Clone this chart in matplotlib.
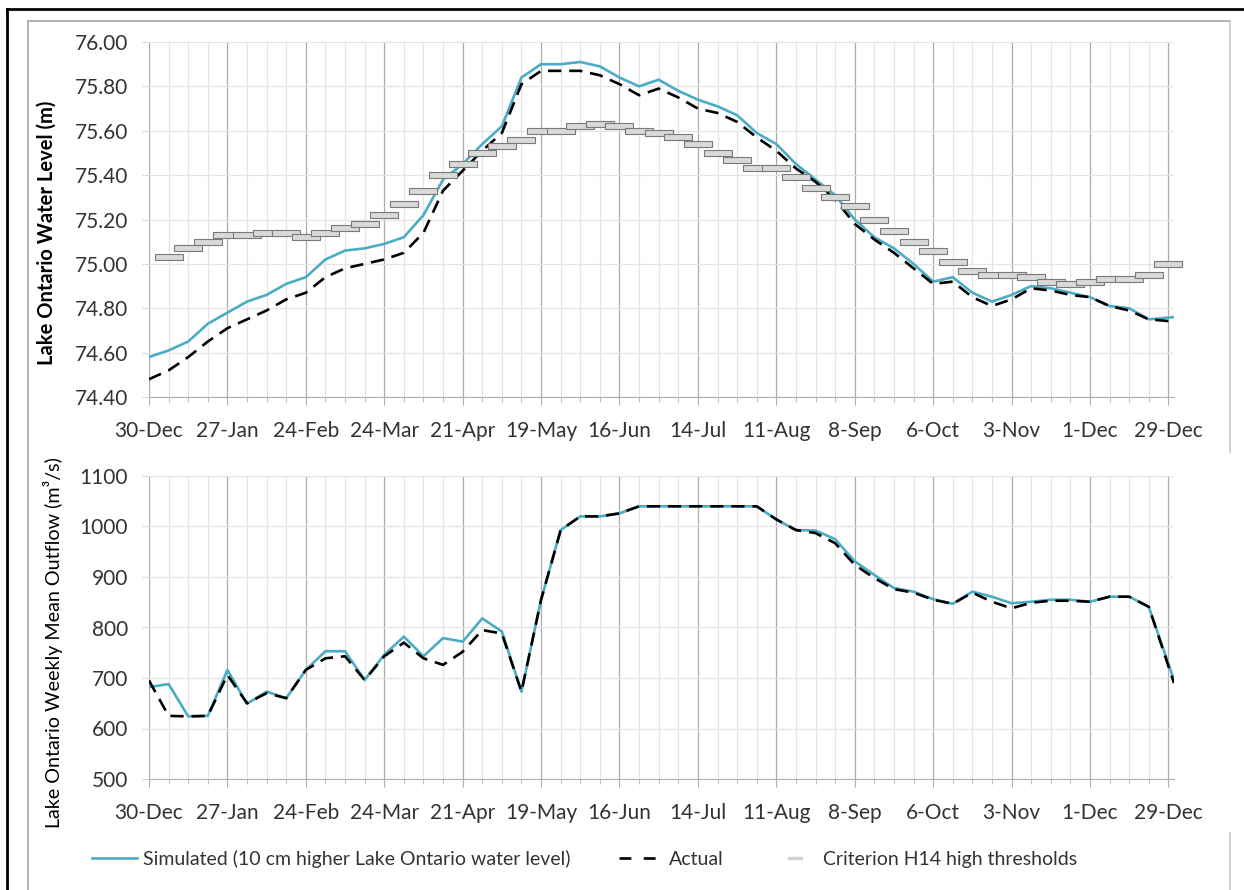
import matplotlib
matplotlib.use('Agg')
import matplotlib.pyplot as plt
from matplotlib.path import Path
from matplotlib.lines import Line2D

plt.rcParams['font.family'] = ['Lato', 'DejaVu Sans']

# weekly dates as day offsets from 30-Dec; last point is a partial week
days = [7 * i for i in range(52)] + [366]
thr_days = [7 * i for i in range(1, 53)]

tick_days = list(range(0, 365, 28))
tick_labels = ['30-Dec', '27-Jan', '24-Feb', '24-Mar', '21-Apr', '19-May', '16-Jun',
               '14-Jul', '11-Aug', '8-Sep', '6-Oct', '3-Nov', '1-Dec', '29-Dec']

sim_level = [74.58, 74.61, 74.65, 74.73, 74.78, 74.83, 74.86, 74.91, 74.94, 75.02,
             75.06, 75.07, 75.09, 75.12, 75.22, 75.38, 75.45, 75.54, 75.62, 75.84,
             75.90, 75.90, 75.91, 75.89, 75.84, 75.80, 75.83, 75.78, 75.74, 75.71,
             75.67, 75.59, 75.54, 75.45, 75.38, 75.31, 75.20, 75.12, 75.07, 75.00,
             74.92, 74.94, 74.87, 74.83, 74.86, 74.90, 74.89, 74.87, 74.85, 74.81,
             74.80, 74.75, 74.76]
act_level = [74.48, 74.52, 74.58, 74.65, 74.71, 74.75, 74.79, 74.84, 74.87, 74.94,
             74.98, 75.00, 75.02, 75.05, 75.14, 75.33, 75.42, 75.51, 75.59, 75.81,
             75.87, 75.87, 75.87, 75.85, 75.81, 75.76, 75.79, 75.75, 75.70, 75.68,
             75.64, 75.57, 75.51, 75.43, 75.37, 75.29, 75.18, 75.11, 75.05, 74.98,
             74.91, 74.92, 74.85, 74.81, 74.84, 74.89, 74.88, 74.86, 74.85, 74.81,
             74.79, 74.75, 74.74]
h14_thresh = [75.03, 75.07, 75.10, 75.13, 75.13, 75.14, 75.14, 75.12, 75.14, 75.16,
              75.18, 75.22, 75.27, 75.33, 75.40, 75.45, 75.50, 75.53, 75.56, 75.60,
              75.60, 75.62, 75.63, 75.62, 75.60, 75.59, 75.57, 75.54, 75.50, 75.47,
              75.43, 75.43, 75.39, 75.34, 75.30, 75.26, 75.20, 75.15, 75.10, 75.06,
              75.01, 74.97, 74.95, 74.95, 74.94, 74.92, 74.91, 74.92, 74.93, 74.93,
              74.95, 75.00]

sim_flow = [682, 688, 624, 625, 716, 649, 673, 660, 716, 753, 753, 696, 746, 782,
            743, 779, 772, 818, 792, 673, 855, 993, 1020, 1020, 1026, 1040, 1040,
            1040, 1040, 1040, 1040, 1040, 1014, 993, 992, 975, 931, 904, 878, 871,
            856, 847, 871, 861, 848, 851, 855, 855, 851, 861, 861, 841, 696]
act_flow = [695, 625, 624, 625, 706, 650, 670, 660, 716, 739, 743, 696, 743, 770,
            739, 726, 752, 795, 788, 673, 855, 993, 1020, 1020, 1026, 1040, 1040,
            1040, 1040, 1040, 1040, 1040, 1014, 993, 987, 967, 924, 898, 876, 869,
            855, 847, 869, 851, 838, 849, 853, 853, 851, 861, 861, 841, 690]

BLUE = '#4bacc6'
TXT = '#333333'

fig = plt.figure(figsize=(12.44, 8.90), dpi=100)
fig.set_facecolor('w')

# page frame (black) and chart-area border (gray)
fig.add_artist(Line2D([7/1244, 1], [1 - 9/890] * 2, color='k', lw=2))
fig.add_artist(Line2D([7/1244] * 2, [0, 1 - 9/890], color='k', lw=2))
fig.add_artist(Line2D([28/1244, 1230/1244], [1 - 21/890] * 2, color='#a6a6a6', lw=1.2))
fig.add_artist(Line2D([28/1244] * 2, [0, 1 - 21/890], color='#a6a6a6', lw=1.2))
fig.add_artist(Line2D([1230/1244] * 2, [1 - 452/890, 1 - 21/890], color='#c8c8c8', lw=1.2))
fig.add_artist(Line2D([1230/1244] * 2, [0, 1 - 833/890], color='#c8c8c8', lw=1.2))

ax1 = fig.add_axes([149/1244, 1 - 397/890, 1025/1244, 355/890])
ax2 = fig.add_axes([149/1244, 1 - 779/890, 1025/1244, 303/890])

for ax in (ax1, ax2):
    ax.set_xlim(0, 366)
    ax.set_xticks(tick_days)
    ax.set_xticklabels(tick_labels)
    ax.set_xticks(list(range(0, 366, 7)), minor=True)
    ax.grid(which='minor', axis='x', color='#e4e4e4', lw=0.9)
    ax.grid(which='major', axis='x', color='#ababab', lw=0.9)
    ax.grid(which='major', axis='y', color='#e4e4e4', lw=0.9)
    ax.set_axisbelow(True)
    for s in ('top', 'right', 'left'):
        ax.spines[s].set_visible(False)
    ax.spines['bottom'].set_color('#b0b0b0')
    ax.tick_params(axis='x', which='major', length=6, color='#b0b0b0', pad=11,
                   labelsize=15, labelcolor=TXT)
    ax.tick_params(axis='x', which='minor', length=3.5, color='#b0b0b0')
    ax.tick_params(axis='y', length=5, color='#d9d9d9', pad=10,
                   labelsize=15, labelcolor=TXT)

# top: water level
ax1.plot(days, sim_level, color=BLUE, lw=1.9)
ax1.plot(days, act_level, color='k', lw=1.9, linestyle=(0, (5, 3)))
bar = Path([(-14, -2.5), (14, -2.5), (14, 2.5), (-14, 2.5), (-14, -2.5)],
           [Path.MOVETO, Path.LINETO, Path.LINETO, Path.LINETO, Path.CLOSEPOLY])
ax1.plot(thr_days, h14_thresh, linestyle='none', marker=bar, markersize=20.2,
         markerfacecolor='#d9d9d9', markeredgecolor='#7a7a7a', markeredgewidth=0.8,
         clip_on=False)
ax1.set_ylim(74.4, 76.0)
ax1.set_yticks([74.4 + 0.2 * i for i in range(9)])
ax1.set_yticklabels(['%.2f' % (74.4 + 0.2 * i) for i in range(9)])
ax1.set_ylabel('Lake Ontario Water Level (m)', fontsize=14.5, fontweight='bold', color='k')
ax1.yaxis.set_label_coords(-0.09, 0.462)

# bottom: outflow
ax2.plot(days, sim_flow, color=BLUE, lw=1.9)
ax2.plot(days, act_flow, color='k', lw=1.9, linestyle=(0, (5, 3)))
ax2.set_ylim(500, 1100)
ax2.set_yticks(range(500, 1101, 100))
ax2.set_ylabel('Lake Ontario Weekly Mean Outflow (m³/s)', fontsize=14.2, color='k')
ax2.yaxis.set_label_coords(-0.084, 0.45)

handles = [
    Line2D([], [], color=BLUE, lw=1.9),
    Line2D([], [], color='k', lw=1.9, linestyle=(0, (4.5, 4.7))),
    Line2D([], [], linestyle='none', marker=bar, markersize=9.5,
           markerfacecolor='#d0d0d0', markeredgecolor='#d0d0d0'),
]
labels = ['Simulated (10 cm higher Lake Ontario water level)', 'Actual',
          'Criterion H14 high thresholds']
fig.legend(handles, labels, loc='center left', bbox_to_anchor=(92/1244, 1 - 859/890),
           ncol=3, frameon=False, borderpad=0, borderaxespad=0, handlelength=2.3,
           handletextpad=0.3, columnspacing=2.5, prop={'size': 14},
           labelcolor=TXT)

fig.savefig('out.png', dpi=100)
